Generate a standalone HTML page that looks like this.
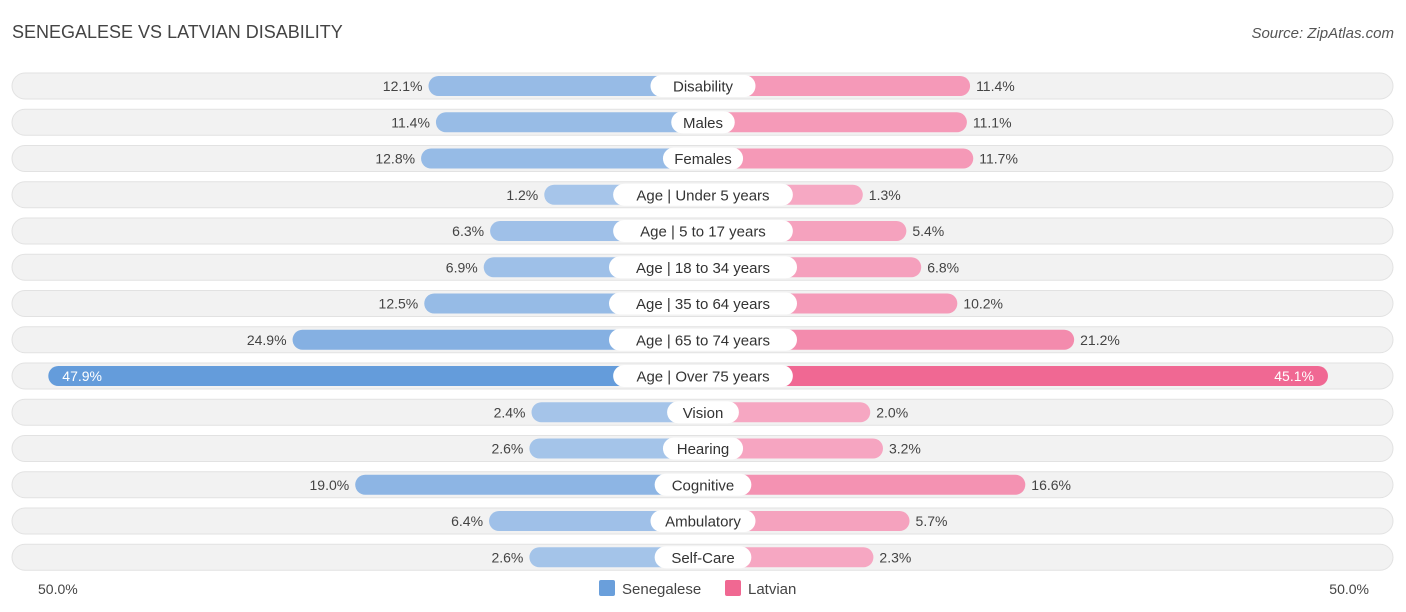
<!DOCTYPE html>
<html><head><meta charset="utf-8"><style>
body{margin:0;width:1406px;height:612px;background:#fff;font-family:"Liberation Sans",sans-serif;overflow:hidden;position:relative}
.t{position:absolute;left:12px;top:22px;font-size:18px;color:#444}
.s{position:absolute;right:12px;top:25px;font-size:15px;color:#555;font-style:italic}
</style></head><body>
<div class="t">SENEGALESE VS LATVIAN DISABILITY</div>
<div class="s">Source: ZipAtlas.com</div>
<svg id="c" width="1406" height="612" style="position:absolute;left:0;top:0"></svg>
<script>
const categories=["Disability","Males","Females","Age | Under 5 years","Age | 5 to 17 years","Age | 18 to 34 years","Age | 35 to 64 years","Age | 65 to 74 years","Age | Over 75 years","Vision","Hearing","Cognitive","Ambulatory","Self-Care"];
const senegalese=[12.1,11.4,12.8,1.2,6.3,6.9,12.5,24.9,47.9,2.4,2.6,19.0,6.4,2.6];
const latvian=[11.4,11.1,11.7,1.3,5.4,6.8,10.2,21.2,45.1,2.0,3.2,16.6,5.7,2.3];
const axisLabels=["50.0%","50.0%"];
const NS="http://www.w3.org/2000/svg",svg=document.getElementById('c');
const cx=703,y0=86,dy=36.25;
function xs(v){return 146+10.62*v;}
function mk(tag,attrs,parent){const e=document.createElementNS(NS,tag);for(const k in attrs)e.setAttribute(k,attrs[k]);(parent||svg).appendChild(e);return e;}
function mix(a,b,t){return 'rgb('+a.map((v,i)=>Math.round(v+(b[i]-v)*t)).join(',')+')';}
const maxv=Math.max(...senegalese,...latvian);
categories.forEach((c,i)=>{
  const y=y0+i*dy;
  const g=mk('g',{});
  
  
  const bg=mk('rect',{x:12,y:y-13,width:1381,height:26,rx:13,fill:'#f2f2f2',stroke:'#e2e2e2'},g);
  
  
  const s=senegalese[i],l=latvian[i];
  const ts=s/maxv,tl=l/maxv;
  const w1=xs(s);
  const b1=mk('rect',{x:cx-w1,y:y-10,width:w1,height:20,rx:10,fill:mix([168,198,234],[100,156,219],ts)},g);
  
  
  const w2=xs(l);
  const b2=mk('rect',{x:cx,y:y-10,width:w2,height:20,rx:10,fill:mix([246,170,196],[240,100,144],tl)},g);
  
  
  const big=s>40;
  const t1=mk('text',{x:big?cx-w1+14:cx-w1-6,y:y+5,'font-size':14,fill:big?'#fff':'#444','text-anchor':big?'start':'end'},g);
  t1.textContent=s.toFixed(1)+'%';
  
  
  const bigl=l>40;
  const t2=mk('text',{x:bigl?cx+w2-14:cx+w2+6,y:y+5,'font-size':14,fill:bigl?'#fff':'#444','text-anchor':bigl?'end':'start'},g);
  t2.textContent=l.toFixed(1)+'%';
  
  
  const lw=c.length*8.3+22;
  const lb=mk('rect',{x:cx-lw/2,y:y-11,width:lw,height:22,rx:11,fill:'#fff'},g);
  
  
  const lt=mk('text',{x:cx,y:y+5.5,'font-size':15,fill:'#333','text-anchor':'middle'},g);
  lt.textContent=c;
  
  
});
const a1=mk('text',{x:38,y:594,'font-size':14,fill:'#444'});a1.textContent=axisLabels[0];


const a2=mk('text',{x:1369,y:594,'font-size':14,fill:'#444','text-anchor':'end'});a2.textContent=axisLabels[1];


[[599,'#6a9fdb','Senegalese'],[725,'#f06892','Latvian']].forEach(([x,col,n])=>{
  const g=mk('g',{});
  
  
  mk('rect',{x:x,y:580,width:16,height:16,rx:2,fill:col},g);
  const t=mk('text',{x:x+23,y:594,'font-size':15,fill:'#444'},g);t.textContent=n;
});
</script>
</body></html>
